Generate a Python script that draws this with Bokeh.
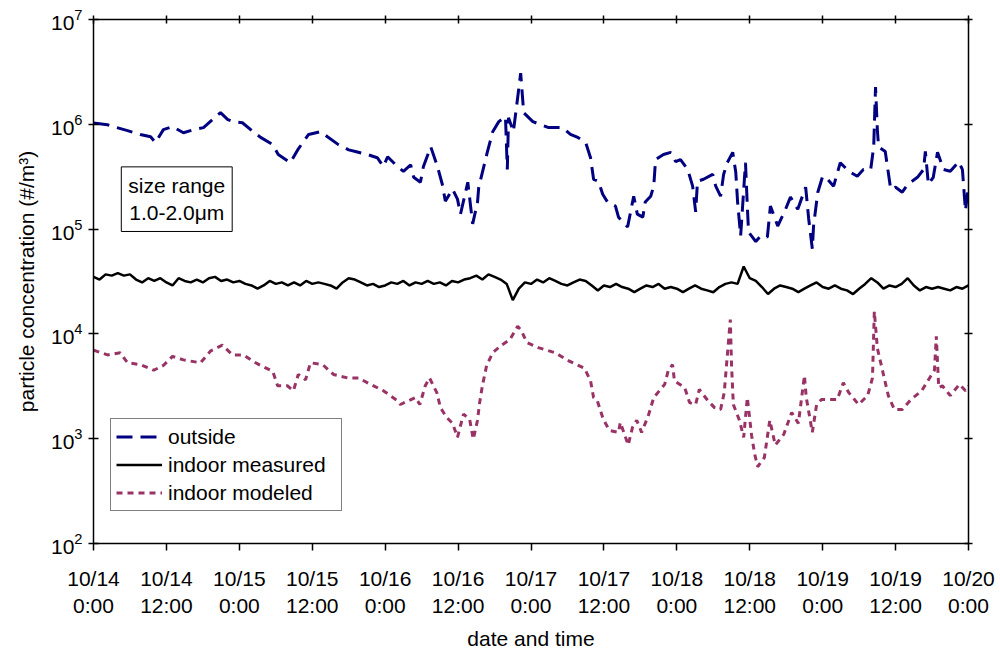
from bokeh.plotting import figure
from bokeh.models import (Range1d, FixedTicker, LinearAxis, Label, Legend, LegendItem)
from bokeh.embed import file_html
from bokeh.resources import INLINE

FONT = "Liberation Sans"

tick_hours = [0, 12, 24, 36, 48, 60, 72, 84, 96, 108, 120, 132, 144]
tick_labels = ["10/14\n0:00", "10/14\n12:00", "10/15\n0:00", "10/15\n12:00",
               "10/16\n0:00", "10/16\n12:00", "10/17\n0:00", "10/17\n12:00",
               "10/18\n0:00", "10/18\n12:00", "10/19\n0:00", "10/19\n12:00",
               "10/20\n0:00"]
y_ticks = [1e2, 1e3, 1e4, 1e5, 1e6, 1e7]

# outside concentration (#/m3), hours since 10/14 0:00
outside_hours = [0, 2.3, 3.3, 5.6, 7.7, 9.4, 10.2, 11.5, 13, 14.8, 16.5, 18.1, 19.6, 20.9,
                 22.1, 23, 24.5, 26.3, 27.5, 29.5, 30.4, 32.4, 33.6, 35.4, 37.4, 38.5,
                 40.3, 42, 43.1, 45.1, 46.7, 47.7, 48.4, 50, 51, 52.2, 52.7, 53.8, 54.3,
                 55.5, 56.6, 57.4, 57.9, 59.1, 59.9, 60.4, 61.6, 62.4, 63.2, 63.4, 64,
                 64.8, 65.7, 66.7, 67.8, 68.1, 68.3, 69.1, 69.9, 70.3, 70.8, 72.3, 74.9,
                 77.2, 78.5, 79.7, 81, 81.8, 82.3, 83.1, 83.8, 84.6, 85.9, 86.4, 87.9,
                 88.9, 89.5, 90.4, 90.8, 91.7, 92.2, 92.5, 93.8, 95, 95.8, 96.6, 97.8,
                 98.6, 99.1, 99.4, 100.4, 101.9, 102.4, 103.2, 103.7, 104.3, 105.2,
                 105.7, 106, 106.5, 107.3, 107.6, 107.8, 109, 109.8, 110.9, 111.4, 112.6,
                 113.9, 114.7, 115.9, 117.2, 117.5, 117.7, 118.3, 118.5, 119.2, 120,
                 120.8, 121.8, 122.9, 124.3, 125.7, 126.7, 127.9, 128.4, 128.7, 129,
                 129.2, 130.3, 131.2, 132, 133.1, 134, 135.6, 136.6, 136.9, 137.4, 138.2,
                 138.9, 139.9, 141, 142.4, 143, 143.5, 144]
outside_values = [1.03e6, 9.9e5, 9.5e5, 8.7e5, 8.0e5, 7.6e5, 6.7e5, 8.9e5, 9.5e5, 8.3e5,
                  8.9e5, 9.3e5, 1.11e6, 1.29e6, 1.11e6, 1.06e6, 1.035e6, 8.5e5, 7.5e5,
                  6.4e5, 5.15e5, 4.3e5, 5.7e5, 8.0e5, 8.5e5, 7.6e5, 6.4e5, 5.7e5, 5.5e5,
                  5.15e5, 4.8e5, 3.96e5, 4.9e5, 3.96e5, 3.56e5, 4.1e5, 3.12e5, 2.8e5,
                  3.96e5, 6.1e5, 3.96e5, 2.68e5, 1.85e5, 2.4e5, 1.93e5, 1.39e5, 2.8e5,
                  1.12e5, 1.81e5, 2.51e5, 3.48e5, 5.4e5, 8.5e5, 1.06e6, 1.18e6, 3.7e5,
                  1.155e6, 8.5e5, 1.99e6, 3.08e6, 1.29e6, 1.06e6, 9.3e5, 9.3e5, 8.0e5,
                  7.5e5, 6.7e5, 4.8e5, 2.99e5, 2.86e5, 2.15e5, 1.81e5, 1.66e5, 1.3e5,
                  1.05e5, 2.06e5, 1.39e5, 1.3e5, 1.81e5, 2.06e5, 2.57e5, 4.6e5, 5.15e5,
                  5.4e5, 4.4e5, 4.6e5, 3.7e5, 2.57e5, 1.46e5, 2.86e5, 2.99e5, 3.33e5,
                  2.57e5, 2.06e5, 3.33e5, 4.3e5, 5.4e5, 3.48e5, 1.81e5, 8.6e4, 4.3e5,
                  1.66e5, 9.4e4, 7.6e4, 8.6e4, 8.4e4, 1.66e5, 1.07e5, 1.55e5, 2.02e5,
                  1.55e5, 2.51e5, 1.66e5, 1.25e5, 6.5e4, 1.07e5, 2.25e5, 3.19e5, 2.99e5,
                  2.57e5, 4.3e5, 3.56e5, 3.19e5, 3.7e5, 3.7e5, 6.1e5, 2.27e6, 8.9e5,
                  6.1e5, 5.5e5, 2.4e5, 2.51e5, 2.25e5, 2.68e5, 3.12e5, 3.7e5, 5.5e5,
                  2.68e5, 3.12e5, 5.4e5, 3.7e5, 3.56e5, 4.4e5, 3.7e5, 1.5e5, 2.6e5]

# indoor measured concentration (#/m3), hourly
measured_hours = list(range(0, 145))
measured_values = [
    35e3, 33e3, 37e3, 36e3, 38e3, 36e3, 37e3, 33e3, 31e3, 34e3, 32e3, 34e3,
    31e3, 29e3, 34e3, 32e3, 31e3, 33e3, 31e3, 34e3, 35e3, 32e3, 33e3, 31e3,
    32e3, 30e3, 29e3, 27e3, 29e3, 32e3, 30e3, 31e3, 29e3, 31e3, 29e3, 32e3,
    30e3, 31e3, 30e3, 29e3, 27e3, 31e3, 34e3, 33e3, 31e3, 29e3, 30e3, 28e3,
    29e3, 31e3, 30e3, 32e3, 29e3, 31e3, 30e3, 32e3, 30e3, 31e3, 29e3, 32e3,
    31e3, 33e3, 34e3, 36e3, 33e3, 37e3, 35e3, 33e3, 30e3, 21e3, 27e3, 31e3,
    30e3, 33e3, 31e3, 34e3, 32e3, 30e3, 29e3, 31e3, 33e3, 32e3, 29e3, 26e3,
    29e3, 28e3, 30e3, 28e3, 27e3, 25e3, 27e3, 29e3, 28e3, 30e3, 27e3, 28e3,
    27e3, 25e3, 27e3, 29e3, 27e3, 26e3, 25e3, 28e3, 30e3, 31e3, 30e3, 44e3,
    34e3, 32e3, 28e3, 24e3, 27e3, 29e3, 28e3, 27e3, 25e3, 27e3, 29e3, 31e3,
    28e3, 27e3, 29e3, 27e3, 26e3, 24e3, 27e3, 30e3, 34e3, 31e3, 27e3, 29e3,
    28e3, 30e3, 34e3, 29e3, 26e3, 28e3, 27e3, 28e3, 27e3, 26e3, 28e3, 27e3,
    29e3]

# indoor modeled concentration (#/m3)
modeled_hours = [0, 2.3, 4.4, 5.6, 7.7, 9.9, 11.5, 13, 14.8, 17.6, 19.3, 21.2, 22.9, 24.7,
                 26.2, 27.5, 29.5, 30.3, 31.9, 32.9, 33.7, 34.9, 35.7, 37.7, 39.5, 41.8,
                 43.6, 45.6, 47.7, 50, 50.5, 53, 53.7, 54.6, 55.3, 56.5, 57.1, 58.1, 59.1,
                 59.9, 60.9, 61.9, 62.5, 63.2, 63.5, 64, 64.7, 65.7, 67, 68.5, 69.8, 70.4,
                 71.3, 73.2, 76, 78.3, 80.8, 81.8, 82.3, 82.9, 83.9, 84.9, 86.4, 86.7, 88,
                 88.7, 89.4, 90.2, 91.3, 92.2, 94, 94.6, 95.3, 95.6, 97.3, 98.1, 99.1,
                 99.7, 101.1, 102.2, 103.2, 103.8, 104.8, 105, 105.3, 106.3, 107, 107.6,
                 108.3, 108.8, 109.3, 110.4, 111.3, 112.2, 113.6, 114.9, 116, 117, 117.3,
                 118.3, 119, 119.8, 122.4, 123.4, 124.3, 125.9, 127.4, 128.2, 128.5, 129,
                 130, 130.8, 131.8, 133.1, 134.5, 136.3, 137.6, 138.4, 138.7, 139.1, 139.7,
                 141, 142.5, 143.5, 144]
modeled_values = [7.0e3, 6.3e3, 6.6e3, 5.3e3, 5.1e3, 4.5e3, 5.0e3, 6.1e3, 5.65e3, 5.3e3,
                  6.9e3, 7.8e3, 6.3e3, 6.3e3, 5.5e3, 5.0e3, 4.4e3, 3.2e3, 3.2e3, 2.87e3,
                  4.1e3, 3.65e3, 5.3e3, 5.1e3, 4.1e3, 3.8e3, 3.8e3, 3.3e3, 2.87e3, 2.31e3,
                  2.12e3, 2.47e3, 2.12e3, 3.2e3, 3.8e3, 2.75e3, 1.98e3, 1.6e3, 1.4e3,
                  1.03e3, 1.72e3, 1.53e3, 9.9e2, 1.5e3, 2.12e3, 3.2e3, 5.0e3, 6.6e3, 7.7e3,
                  8.8e3, 1.18e4, 1.08e4, 8.3e3, 7.4e3, 6.6e3, 5.5e3, 4.7e3, 3.57e3, 2.47e3,
                  2.31e3, 1.53e3, 1.2e3, 1.15e3, 1.43e3, 8.7e2, 1.28e3, 1.5e3, 1.15e3,
                  1.65e3, 2.47e3, 3.3e3, 4.5e3, 5.1e3, 3.57e3, 3.07e3, 2.21e3, 2.12e3,
                  2.95e3, 2.31e3, 1.98e3, 1.9e3, 2.75e3, 1.37e4, 5.1e3, 2.12e3, 1.5e3,
                  1.03e3, 2.47e3, 1.08e3, 7.2e2, 5.4e2, 6.6e2, 1.5e3, 8.7e2, 1.1e3, 1.78e3,
                  1.4e3, 4.0e3, 2.47e3, 1.15e3, 2.12e3, 2.36e3, 2.36e3, 3.42e3, 2.75e3,
                  2.12e3, 2.58e3, 3.8e3, 1.64e4, 7.3e3, 4.1e3, 2.58e3, 1.9e3, 1.9e3, 2.36e3,
                  2.87e3, 3.8e3, 4.5e3, 9.5e3, 3.07e3, 3.2e3, 2.58e3, 3.3e3, 2.87e3, 3.2e3]

p = figure(width=1000, height=653, x_range=Range1d(0, 144), y_range=Range1d(1e2, 1e7),
           y_axis_type="log", output_backend="svg", toolbar_location=None,
           min_border_left=93, min_border_right=32, min_border_top=19, min_border_bottom=106)
p.grid.visible = False
p.outline_line_color = None
p.background_fill_color = "white"
p.border_fill_color = "white"

r_out = p.line(outside_hours, outside_values, line_color="#000080", line_width=3,
               line_dash="16 8")
r_meas = p.line(measured_hours, measured_values, line_color="black", line_width=2.5)
r_mod = p.line(modeled_hours, modeled_values, line_color="#993366", line_width=3,
               line_dash="6 5")

label_overrides = {h: t for h, t in zip(tick_hours, tick_labels)}

xa = p.xaxis[0]
xa.ticker = FixedTicker(ticks=tick_hours)
xa.major_label_overrides = label_overrides
xa.major_tick_in = 0
xa.major_tick_out = 7
xa.minor_tick_line_color = None
xa.axis_line_width = 1.5
xa.major_tick_line_width = 1.5
xa.major_label_text_font = FONT
xa.major_label_text_font_size = "21px"
xa.major_label_text_color = "black"
xa.major_label_standoff = 16
xa.axis_label = "date and time"
xa.axis_label_text_font = FONT
xa.axis_label_text_font_size = "21px"
xa.axis_label_text_font_style = "normal"
xa.axis_label_text_color = "black"
xa.axis_label_standoff = 7

ya = p.yaxis[0]
ya.ticker.desired_num_ticks = 6
ya.major_tick_in = 5
ya.major_tick_out = 5
ya.minor_tick_line_color = None
ya.axis_line_width = 1.5
ya.major_tick_line_width = 1.5
ya.major_label_text_font = FONT
ya.major_label_text_font_size = "21px"
ya.major_label_text_color = "black"
ya.major_label_standoff = 6
ya.axis_label = "particle concentration (#/m³)"
ya.axis_label_text_font = FONT
ya.axis_label_text_font_size = "21px"
ya.axis_label_text_font_style = "normal"
ya.axis_label_text_color = "black"
ya.axis_label_standoff = 10

top = LinearAxis(ticker=FixedTicker(ticks=tick_hours),
                 major_label_overrides={h: "" for h in tick_hours})
right = LinearAxis(ticker=FixedTicker(ticks=y_ticks),
                   major_label_overrides={v: "" for v in y_ticks})
for ax in (top, right):
    ax.major_tick_in = 4
    ax.major_tick_out = 4
    ax.minor_tick_line_color = None
    ax.axis_line_width = 1.5
    ax.major_tick_line_width = 1.5
    ax.major_label_standoff = 0
p.add_layout(top, "above")
p.add_layout(right, "right")

legend = Legend(items=[LegendItem(label="outside", renderers=[r_out]),
                       LegendItem(label="indoor measured", renderers=[r_meas]),
                       LegendItem(label="indoor modeled", renderers=[r_mod])],
                location=(17, 32), label_text_font=FONT, label_text_font_size="21px",
                label_text_color="black",
                glyph_width=46, glyph_height=25, label_standoff=6, spacing=3,
                padding=5, margin=0, border_line_color="black", border_line_width=1,
                background_fill_color="white", background_fill_alpha=1.0,
                label_height=25, label_width=168)
p.add_layout(legend)

box = Label(x=13.7, y=1.93e5, text="size range\n1.0-2.0μm", text_align="center",
            text_baseline="middle", text_font=FONT, text_font_size="21px",
            text_color="black",
            border_line_color="black", border_line_width=1,
            background_fill_color="white", padding=7)
p.add_layout(box)

open("out.html", "w").write(file_html(p, INLINE))
